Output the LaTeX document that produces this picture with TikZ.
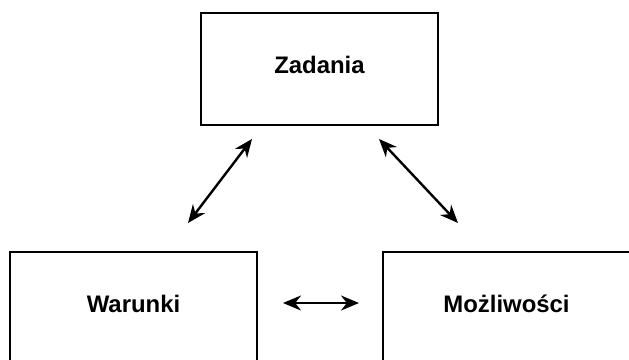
\documentclass[tikz,border=0pt]{standalone}
\usepackage{fontspec}
\setmainfont{Liberation Sans}
\usetikzlibrary{arrows.meta}
\begin{document}
\begin{tikzpicture}[x=1bp, y=-1bp,
    box/.style={draw, line width=2.7bp, minimum height=112bp, inner sep=0,
	text height=16bp, text depth=8bp, font=\fontsize{24}{28}\selectfont\bfseries},
    link/.style={line width=2.4bp,
	{Stealth[length=18bp, width=15bp]}-{Stealth[length=18bp, width=15bp]}}]
    \clip (0, 0) rectangle (629, 359);
    \node[box, minimum width=237bp] (zad) at (319.5, 69) {Zadania};
    \node[box, minimum width=247bp] (war) at (133.5, 308) {Warunki};
    \node[box, minimum width=247bp] (moz) at (506.5, 308) {Możliwości};
    \coordinate (zw) at (252, 139);
    \coordinate (wz) at (188, 223);
    \coordinate (zm) at (379, 139);
    \coordinate (mz) at (458, 223);
    \coordinate (wm) at (283, 303);
    \coordinate (mw) at (359, 303);
    \draw[link] (wz) -- (zw);
    \draw[link] (zm) -- (mz);
    \draw[link] (wm) -- (mw);
\end{tikzpicture}
\end{document}
